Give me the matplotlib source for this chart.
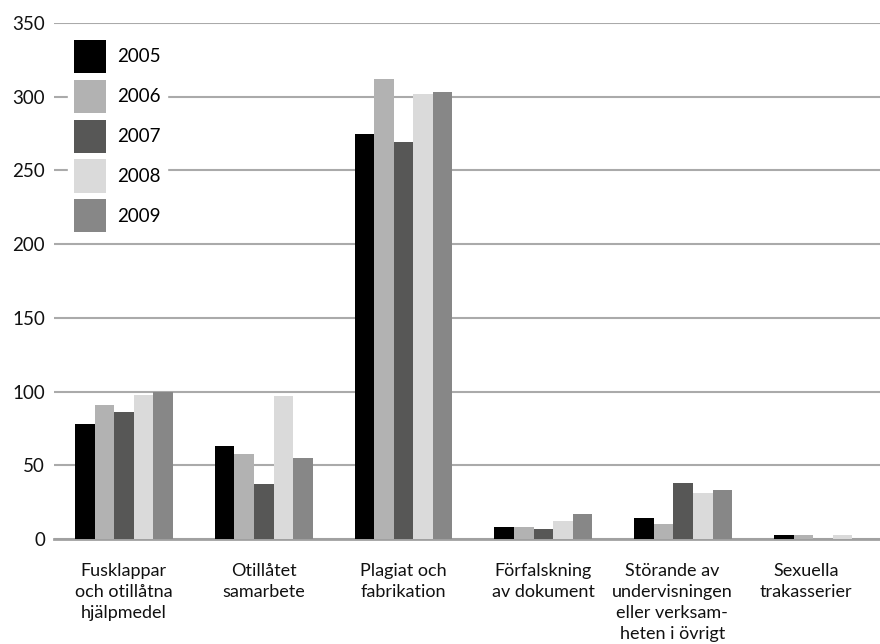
import numpy as np
import matplotlib
matplotlib.use('Agg')
import matplotlib.pyplot as plt
from matplotlib.transforms import ScaledTranslation

plt.rcParams['font.family'] = ['Lato', 'DejaVu Sans']

# Kategorier och värden per år
categories = ['Fusklappar\noch otillåtna\nhjälpmedel',
              'Otillåtet\nsamarbete',
              'Plagiat och\nfabrikation',
              'Förfalskning\nav dokument',
              'Störande av\nundervisningen\neller verksam-\nheten i övrigt',
              'Sexuella\ntrakasserier']
years = ['2005', '2006', '2007', '2008', '2009']
v2005 = [78, 63, 275, 8, 14, 3]
v2006 = [91, 58, 312, 8, 10, 3]
v2007 = [86, 37, 269, 7, 38, 0]
v2008 = [98, 97, 302, 12, 31, 3]
v2009 = [100, 55, 303, 17, 33, 0]
yticks = [0, 50, 100, 150, 200, 250, 300, 350]

series = [v2005, v2006, v2007, v2008, v2009]
colors = ['#000000', '#b2b2b2', '#575756', '#dadada', '#878787']

fig = plt.figure(figsize=(8.8, 6.44), dpi=100)
ax = fig.add_axes([0.0614, 0.163, 0.9386, 0.8013])

x = np.arange(len(categories))
w = 0.14
for i, (vals, c) in enumerate(zip(series, colors)):
    ax.bar(x + (i - 2) * w, vals, w, color=c, label=years[i], zorder=3)

ax.set_ylim(0, 350)
ax.set_xlim(-0.5, 5.408)
ax.set_yticks(yticks)
ax.set_yticklabels([str(t) for t in yticks], fontsize=13.5)
ax.set_xticks(x)
ax.set_xticklabels(categories, fontsize=13)
ax.tick_params(axis='both', length=0, colors='#111111')
ax.tick_params(axis='y', pad=6.5)
ax.tick_params(axis='x', pad=17)

# sista etiketterna ligger lite till vänster i originalet
shifts = [0, 0, 0, 0, -11, -17]
for lab, dx in zip(ax.get_xticklabels(), shifts):
    lab.set_linespacing(1.4)
    lab.set_transform(lab.get_transform() + ScaledTranslation(dx / 100, 0, fig.dpi_scale_trans))

ax.grid(axis='y', color='#aaaaaa', linewidth=1.5, zorder=0)
for s in ['top', 'left', 'right']:
    ax.spines[s].set_visible(False)
ax.spines['bottom'].set_color('#a0a0a0')
ax.spines['bottom'].set_linewidth(2)
ax.spines['bottom'].set_zorder(2)

leg = ax.legend(loc='upper left', bbox_to_anchor=(0.006, 0.996), fontsize=13.5,
                frameon=True, fancybox=False, edgecolor='white', facecolor='white',
                framealpha=1, handlelength=1.71, handleheight=2.35,
                labelspacing=0.35, handletextpad=0.6, borderpad=0.3)
leg.set_zorder(5)

plt.savefig('out.png', dpi=100)
plt.close()
